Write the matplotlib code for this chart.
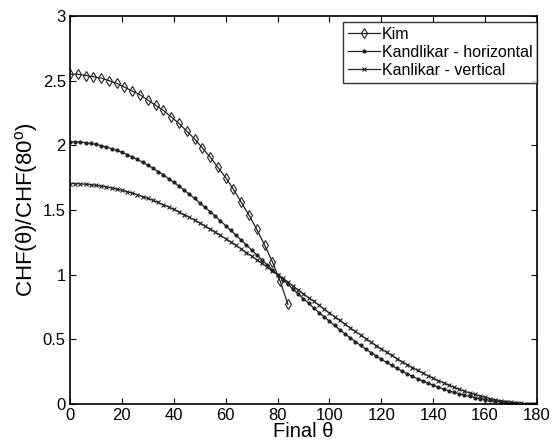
import numpy as np
import matplotlib
matplotlib.use("Agg")
import matplotlib.pyplot as plt

plt.rcParams['font.family'] = ['Liberation Sans', 'DejaVu Sans']
plt.rcParams['mathtext.fontset'] = 'custom'
plt.rcParams['mathtext.rm'] = 'Liberation Sans'

# Kim correlation, every 3 degrees
kim_theta = list(range(0, 85, 3))
kim_chf = [2.55, 2.55, 2.54, 2.53, 2.52, 2.50, 2.48, 2.45, 2.42, 2.39,
           2.35, 2.31, 2.27, 2.22, 2.17, 2.11, 2.05, 1.98, 1.91, 1.83,
           1.75, 1.66, 1.56, 1.46, 1.35, 1.23, 1.10, 0.95, 0.77]

# Kandlikar horizontal / vertical, every 2 degrees
kand_theta = list(range(0, 181, 2))
kand_horiz = [2.028, 2.027, 2.025, 2.021, 2.015, 2.007, 1.998, 1.987, 1.975, 1.961,
              1.946, 1.929, 1.910, 1.891, 1.869, 1.847, 1.823, 1.797, 1.771, 1.743,
              1.715, 1.685, 1.654, 1.622, 1.590, 1.556, 1.522, 1.487, 1.452, 1.416,
              1.379, 1.342, 1.305, 1.267, 1.229, 1.191, 1.153, 1.114, 1.076, 1.038,
              1.000, 0.962, 0.925, 0.887, 0.850, 0.814, 0.778, 0.742, 0.707, 0.673,
              0.640, 0.607, 0.574, 0.543, 0.512, 0.482, 0.453, 0.425, 0.398, 0.372,
              0.346, 0.322, 0.298, 0.276, 0.254, 0.233, 0.214, 0.195, 0.177, 0.161,
              0.145, 0.130, 0.116, 0.102, 0.090, 0.079, 0.068, 0.058, 0.050, 0.041,
              0.034, 0.027, 0.022, 0.016, 0.012, 0.008, 0.005, 0.003, 0.001, 0.000,
              0.000]
kand_vert = [1.704, 1.704, 1.702, 1.699, 1.696, 1.691, 1.685, 1.679, 1.671, 1.662,
             1.653, 1.642, 1.630, 1.618, 1.604, 1.590, 1.575, 1.558, 1.541, 1.523,
             1.505, 1.485, 1.465, 1.444, 1.422, 1.400, 1.377, 1.353, 1.329, 1.304,
             1.278, 1.252, 1.226, 1.199, 1.171, 1.143, 1.115, 1.087, 1.058, 1.029,
             1.000, 0.971, 0.941, 0.911, 0.882, 0.852, 0.822, 0.793, 0.763, 0.733,
             0.704, 0.675, 0.646, 0.617, 0.589, 0.561, 0.533, 0.505, 0.479, 0.452,
             0.426, 0.401, 0.376, 0.351, 0.327, 0.304, 0.282, 0.260, 0.239, 0.219,
             0.199, 0.181, 0.163, 0.146, 0.129, 0.114, 0.100, 0.086, 0.074, 0.062,
             0.051, 0.042, 0.033, 0.025, 0.019, 0.013, 0.008, 0.005, 0.002, 0.001,
             0.000]

xticks = list(range(0, 181, 20))
yticks = [0, 0.5, 1, 1.5, 2, 2.5, 3]
ytick_labels = ['0', '0.5', '1', '1.5', '2', '2.5', '3']

fig = plt.figure(figsize=(5.52, 4.46), dpi=100)
ax = fig.add_axes([0.1268, 0.0942, 0.8460, 0.8699])

c = '#222222'
ax.plot(kim_theta, kim_chf, color=c, lw=0.9, marker='d', ms=5,
        mfc='none', mec=c, mew=0.8, label='Kim')
ax.plot(kand_theta, kand_horiz, color=c, lw=0.9, marker='.', ms=4,
        label='Kandlikar - horizontal')
ax.plot(kand_theta, kand_vert, color=c, lw=0.9, marker='x', ms=2.5, mew=0.8,
        label='Kanlikar - vertical')

ax.set_xlim(0, 180)
ax.set_ylim(0, 3)
ax.set_xticks(xticks)
ax.set_yticks(yticks)
ax.set_yticklabels(ytick_labels)
ax.tick_params(direction='in', top=True, right=True, length=4, width=0.8,
               labelsize=12, pad=3)
for s in ax.spines.values():
    s.set_linewidth(1.2)
    s.set_color('black')

ax.set_xlabel('Final θ', fontsize=14.5, labelpad=-1)
ax.set_ylabel('CHF(θ)/CHF(80$^{\\mathrm{o}}$)', fontsize=16, labelpad=2)

leg = ax.legend(loc='upper right', bbox_to_anchor=(1.0, 0.985), fontsize=11.5,
                frameon=True, fancybox=False, edgecolor='black',
                handlelength=2.0, handletextpad=0.1, borderpad=0.3,
                labelspacing=0.2, borderaxespad=0.0)
leg.get_frame().set_linewidth(1.0)

fig.savefig('out.png', dpi=100)
